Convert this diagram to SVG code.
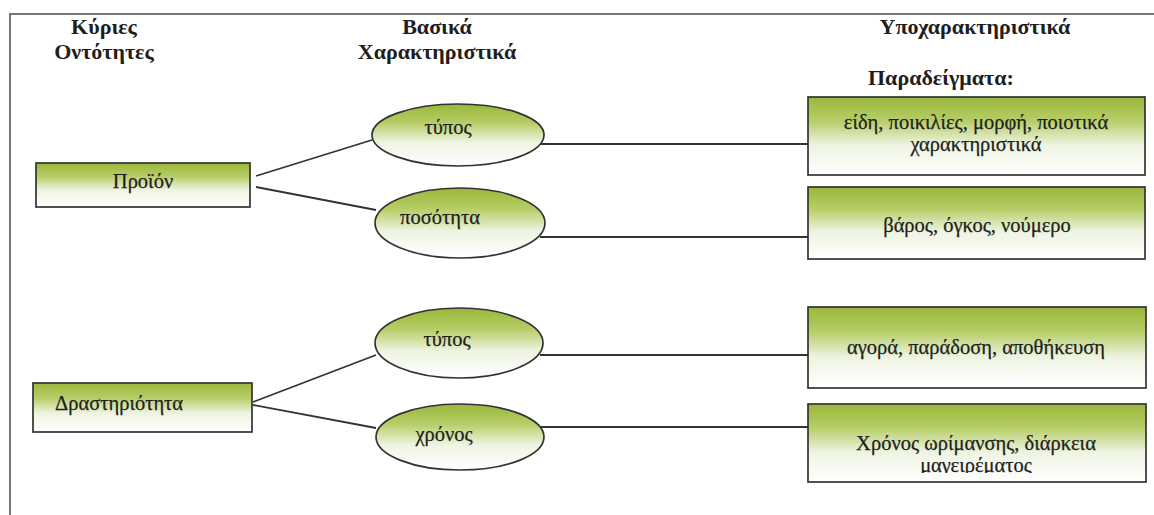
<svg xmlns="http://www.w3.org/2000/svg" width="1154" height="515" viewBox="0 0 1154 515">
<defs>
<linearGradient id="g" x1="0" y1="0" x2="0" y2="1">
<stop offset="0" stop-color="#9ab73a"/>
<stop offset="0.3" stop-color="#b6cd66"/>
<stop offset="0.62" stop-color="#eef4e2"/>
<stop offset="1" stop-color="#ffffff"/>
</linearGradient>
<clipPath id="clip4"><rect x="800" y="400" width="360" height="73"/></clipPath>
<style>
.box{fill:url(#g);stroke:#333;stroke-width:1.7}
text{font-family:"Liberation Serif","DejaVu Serif",serif;fill:#1e1e1e}
.t{font-size:20.5px;stroke:#1e1e1e;stroke-width:0.25}
.h{font-size:22px;font-weight:bold}
.c{text-anchor:middle}
.ln{stroke:#333;stroke-width:1.8;fill:none}
</style>
</defs>
<rect x="10" y="14" width="1170" height="520" fill="none" stroke="#555" stroke-width="1.6"/>
<g id="headers">
<text class="h c" x="104" y="34">Κύριες</text>
<text class="h c" x="104" y="59">Οντότητες</text>
<text class="h c" x="437" y="34">Βασικά</text>
<text class="h c" x="437" y="59">Χαρακτηριστικά</text>
<text class="h c" x="975" y="34">Υποχαρακτηριστικά</text>
<text class="h" x="868" y="85">Παραδείγματα:</text>
</g>
<g id="connectors">
<line class="ln" x1="256" y1="176" x2="372" y2="140"/>
<line class="ln" x1="256" y1="187" x2="376" y2="210"/>
<line class="ln" x1="253" y1="402" x2="376" y2="355"/>
<line class="ln" x1="253" y1="405" x2="376" y2="428"/>
<line class="ln" x1="541" y1="144" x2="808" y2="144"/>
<line class="ln" x1="540" y1="237" x2="808" y2="237"/>
<line class="ln" x1="540" y1="355" x2="808" y2="355"/>
<line class="ln" x1="541" y1="427" x2="808" y2="427"/>
</g>
<g id="n-proion">
<rect class="box" x="36" y="163" width="214" height="44"/>
<text class="t c" x="143" y="188">Προϊόν</text>
</g>
<g id="n-drastiriotita">
<rect class="box" x="33" y="383" width="219" height="49"/>
<text class="t" x="55" y="410">Δραστηριότητα</text>
</g>
<g id="n-typos1">
<ellipse class="box" cx="458" cy="135" rx="86" ry="31"/>
<text class="t c" x="448" y="134">τύπος</text>
</g>
<g id="n-posotita">
<ellipse class="box" cx="460" cy="223" rx="85" ry="35"/>
<text class="t c" x="440" y="224">ποσότητα</text>
</g>
<g id="n-typos2">
<ellipse class="box" cx="459" cy="343" rx="84" ry="35"/>
<text class="t c" x="447" y="346">τύπος</text>
</g>
<g id="n-xronos">
<ellipse class="box" cx="460" cy="437" rx="84" ry="33"/>
<text class="t c" x="444" y="441">χρόνος</text>
</g>
<g id="n-ex1">
<rect class="box" x="808" y="97" width="337" height="78"/>
<text class="t c" x="976" y="129">είδη, ποικιλίες, μορφή, ποιοτικά</text>
<text class="t c" x="976" y="151">χαρακτηριστικά</text>
</g>
<g id="n-ex2">
<rect class="box" x="808" y="187" width="337" height="72"/>
<text class="t c" x="977" y="232">βάρος, όγκος, νούμερο</text>
</g>
<g id="n-ex3">
<rect class="box" x="808" y="307" width="338" height="81"/>
<text class="t c" x="976" y="354">αγορά, παράδοση, αποθήκευση</text>
</g>
<g id="n-ex4">
<rect class="box" x="808" y="404" width="338" height="78"/>
<text class="t c" x="976" y="450">Χρόνος ωρίμανσης, διάρκεια</text>
<text class="t c" x="976" y="472" clip-path="url(#clip4)">μαγειρέματος</text>
</g>
</svg>
